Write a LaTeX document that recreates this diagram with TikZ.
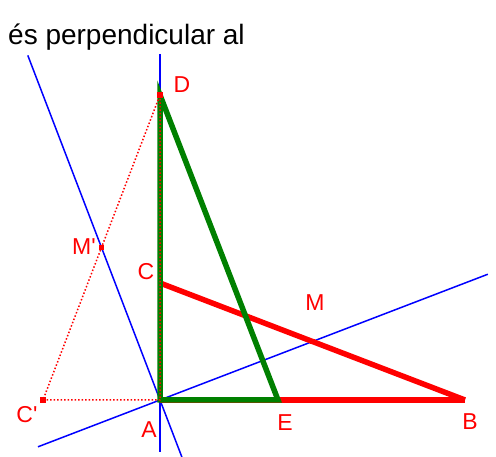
\documentclass[tikz,border=0pt]{standalone}
\usepackage{fontspec}
\setmainfont{Liberation Sans}
\usepackage{xcolor}
\usetikzlibrary{positioning, calc}
\definecolor{geogreen}{RGB}{0,128,0}

\begin{document}
\begin{tikzpicture}[x=1pt, y=-1pt,
        axis/.style={draw=blue, line width=1.5pt},
        side/.style={draw=red, line width=5.5pt},
        rot/.style={draw=geogreen, line width=5.5pt},
        aux/.style={draw=red, dotted, line width=1.5pt},
        pt/.style={fill=red, minimum size=5.5pt, inner sep=0pt},
        lbl/.style={text=red, font=\fontsize{23}{25}\selectfont, inner sep=0pt}
      ]
      \useasboundingbox (0,0) rectangle (496,457);

      \coordinate (A)  at (160,400);
      \coordinate (B)  at (465,400);
      \coordinate (C)  at (160,283);
      \coordinate (D)  at (160,95);
      \coordinate (E)  at (278,400);
      \coordinate (Cp) at (43,400);
      \coordinate (M)  at ($(C)!0.5!(B)$);
      \coordinate (Mp) at ($(Cp)!0.5!(D)$);

      % end points of the blue lines
      \coordinate (v1) at (160,54);
      \coordinate (v2) at (160,452);
      \coordinate (p1) at ($(A)!-1.15!(Mp)$);
      \coordinate (p2) at ($(A)!2.26!(Mp)$);
      \coordinate (q1) at ($(A)!-0.8!(M)$);
      \coordinate (q2) at ($(A)!2.15!(M)$);

      \node[anchor=base west, inner sep=0pt, font=\fontsize{28}{30}\selectfont] (title) at (8,45) {és perpendicular al};

      \draw[axis] (v1) -- (v2);
      \draw[axis] (p2) -- (p1);
      \draw[axis] (q1) -- (q2);

      \draw[side] (A) -- (B);
      \draw[side] (C) -- (B);
      \draw[rot] (A) -- (D) -- (E) -- cycle;
      \draw[aux] (Cp) -- (A) -- (D) -- cycle;

      \node[pt] (d) at (D) {};
      \node[pt] (m) at (M) {};
      \node[pt] (mp) at (Mp) {};
      \node[pt] (cp) at (Cp) {};

      \node[lbl] (lD)  at (182,85)  {D};
      \node[lbl] (lC)  at (146,272) {C};
      \node[lbl] (lMp) at (84,247)  {M\textquotesingle};
      \node[lbl] (lM)  at (315,303) {M};
      \node[lbl] (lCp) at (27,415)  {C\textquotesingle};
      \node[lbl] (lA)  at (149,430) {A};
      \node[lbl] (lE)  at (285,423) {E};
      \node[lbl] (lB)  at (470,422) {B};
    \end{tikzpicture}
\end{document}
